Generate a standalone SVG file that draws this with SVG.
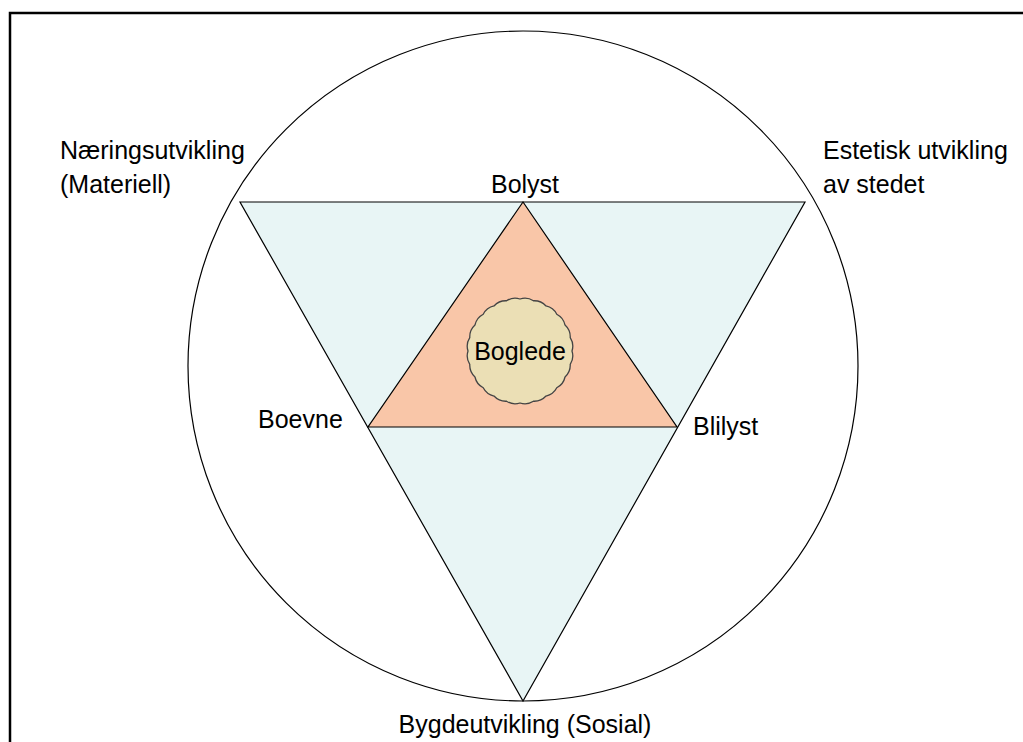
<svg xmlns="http://www.w3.org/2000/svg" width="1023" height="742" viewBox="0 0 1023 742">
<style>
text{font-family:"Liberation Sans",Arial,sans-serif;font-size:25px;fill:#000}
.ln{stroke:#000;stroke-width:1.2;stroke-linejoin:miter}
</style>
<rect width="1023" height="742" fill="#fff"/>
<path d="M10,742 V13 H1023" fill="none" stroke="#000" stroke-width="2.5"/>
<g id="outer-circle"><circle cx="523" cy="366" r="335" fill="#fff" class="ln"/></g>
<g id="big-triangle"><polygon points="240,202 805,202 523,701" fill="#E8F5F5" class="ln"/></g>
<g id="inner-triangle"><polygon points="523,202 368,427 677,427" fill="#F9C6A8" class="ln"/></g>
<g id="boglede">
<path d="M572,351 A16 16 0 0 1 570.23,364.46 A16 16 0 0 1 565.03,377 A16 16 0 0 1 556.77,387.77 A16 16 0 0 1 546,396.03 A16 16 0 0 1 533.46,401.23 A16 16 0 0 1 520,403 A16 16 0 0 1 506.54,401.23 A16 16 0 0 1 494,396.03 A16 16 0 0 1 483.23,387.77 A16 16 0 0 1 474.97,377 A16 16 0 0 1 469.77,364.46 A16 16 0 0 1 468,351 A16 16 0 0 1 469.77,337.54 A16 16 0 0 1 474.97,325 A16 16 0 0 1 483.23,314.23 A16 16 0 0 1 494,305.97 A16 16 0 0 1 506.54,300.77 A16 16 0 0 1 520,299 A16 16 0 0 1 533.46,300.77 A16 16 0 0 1 546,305.97 A16 16 0 0 1 556.77,314.23 A16 16 0 0 1 565.03,325 A16 16 0 0 1 570.23,337.54 A16 16 0 0 1 572,351 Z" fill="#EBDFB5" stroke="#444" stroke-width="1.3"/>
<text x="520" y="360" text-anchor="middle">Boglede</text>
</g>
<g id="labels">
<text x="60" y="159">Næringsutvikling</text>
<text x="60" y="193">(Materiell)</text>
<text x="823" y="159">Estetisk utvikling</text>
<text x="823" y="193">av stedet</text>
<text x="525" y="193" text-anchor="middle">Bolyst</text>
<text x="258" y="428">Boevne</text>
<text x="693" y="435">Blilyst</text>
<text x="525" y="733" text-anchor="middle">Bygdeutvikling (Sosial)</text>
</g>
</svg>
